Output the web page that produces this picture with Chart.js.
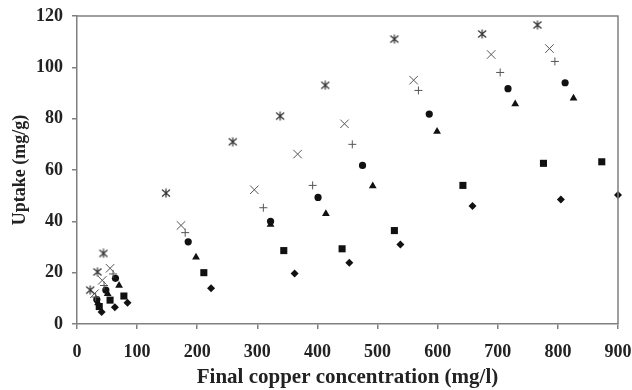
<!DOCTYPE html>
<html lang="en">
<head>
    <meta charset="UTF-8">
    <title>Copper uptake</title>
    <style>
        body { margin: 0; background: #fff; }
        .wrap { width: 632px; height: 390px; }
    </style>
</head>
<body>
    <div class="wrap"><canvas id="chart" width="632" height="390"></canvas></div>
    <script src="https://cdn.jsdelivr.net/npm/chart.js@4.4.1/dist/chart.umd.min.js"></script>
    <script>
        // [final copper concentration (mg/l), uptake (mg/g)] per marker series
        const asteriskPts = [[22, 13.2], [34, 20.3], [44, 27.5], [148, 51], [259, 71], [338, 81], [413, 93], [528, 111], [674, 113], [766, 116.5]];
        const crossPts = [[29, 11.8], [42, 17], [55, 21.7], [173, 38.4], [295, 52.3], [367, 66.2], [445, 78], [560, 95], [689, 105], [786, 107.3]];
        const plusPts = [[31, 10.5], [45, 15], [60, 19.5], [180, 35.6], [310, 45.3], [392, 54], [458, 70], [568, 91], [704, 98], [795, 102.3]];
        const circlePts = [[33, 9.5], [48, 13.2], [64, 17.8], [185, 32], [322, 40], [401, 49.3], [475, 61.8], [586, 81.8], [717, 91.7], [812, 94]];
        const trianglePts = [[35, 8.2], [51, 11.8], [70, 15], [198, 26], [322, 38.8], [414, 43], [492, 53.8], [599, 75], [729, 85.7], [826, 88]];
        const squarePts = [[37, 6.8], [55, 9.3], [78, 10.9], [211, 20], [344, 28.6], [441, 29.3], [528, 36.4], [642, 54], [776, 62.6], [873, 63.2]];
        const diamondPts = [[41, 4.7], [63, 6.5], [84, 8.3], [223, 13.9], [362, 19.7], [453, 23.9], [538, 31], [658, 46], [805, 48.5], [900, 50.3]];

        const xTitle = 'Final copper concentration (mg/l)';
        const yTitle = 'Uptake (mg/g)';

        // excel style asterisk: an x with a vertical bar
        const starImg = document.createElement('canvas');
        starImg.width = 10;
        starImg.height = 10;
        (function () {
            const c = starImg.getContext('2d');
            c.strokeStyle = '#333';
            c.lineWidth = 1.2;
            c.beginPath();
            c.moveTo(1, 1.5); c.lineTo(9, 8.5);
            c.moveTo(9, 1.5); c.lineTo(1, 8.5);
            c.moveTo(5, 0.5); c.lineTo(5, 9.5);
            c.stroke();
        })();

        const toXY = pts => pts.map(p => ({ x: p[0], y: p[1] }));
        const ds = (label, pts, style, radius, color, filled) => ({
            label: label,
            data: toXY(pts),
            pointStyle: style,
            pointRadius: radius,
            pointHoverRadius: radius,
            pointBackgroundColor: filled ? '#111' : 'transparent',
            pointBorderColor: color,
            pointBorderWidth: filled ? 0 : 1,
            showLine: false
        });

        const boxPlugin = {
            id: 'box',
            afterDraw(chart) {
                const a = chart.chartArea;
                const ctx = chart.ctx;
                ctx.save();
                ctx.strokeStyle = '#808080';
                ctx.lineWidth = 1.5;
                ctx.beginPath();
                ctx.moveTo(a.left, a.top);
                ctx.lineTo(a.right, a.top);
                ctx.lineTo(a.right, a.bottom);
                ctx.stroke();
                ctx.restore();
            }
        };

        const font = { family: "'Liberation Serif', 'Times New Roman', serif", weight: 'bold', size: 18 };

        new Chart(document.getElementById('chart'), {
            type: 'scatter',
            data: {
                datasets: [
                    ds('asterisk', asteriskPts, starImg, 5, '#333', false),
                    ds('x', crossPts, 'crossRot', 6, '#555', false),
                    ds('plus', plusPts, 'cross', 4, '#555', false),
                    ds('circle', circlePts, 'circle', 3.6, '#111', true),
                    ds('triangle', trianglePts, 'triangle', 4.5, '#111', true),
                    ds('square', squarePts, 'rect', 5, '#111', true),
                    ds('diamond', diamondPts, 'rectRot', 4, '#111', true)
                ]
            },
            options: {
                responsive: false,
                animation: false,
                layout: { padding: { top: 16, right: 14, left: 0, bottom: 0 } },
                plugins: { legend: { display: false }, tooltip: { enabled: false } },
                elements: { point: { hitRadius: 0 } },
                clip: false,
                scales: {
                    x: {
                        type: 'linear',
                        min: 0, max: 900,
                        ticks: { stepSize: 100, color: '#222', font: font, padding: 13, maxRotation: 0 },
                        grid: { display: true, drawOnChartArea: false, drawTicks: true, tickLength: 5, color: '#808080', lineWidth: 1.5 },
                        border: { display: true, color: '#808080', width: 1.5 },
                        title: { display: true, text: xTitle, color: '#222', font: { ...font, size: 21 }, padding: { top: 4, bottom: 0 } },
                        afterFit(scale) {
                            scale.height = 66;
                            scale.paddingLeft = 0;
                            scale.paddingRight = 0;
                        }
                    },
                    y: {
                        min: 0, max: 120,
                        ticks: { stepSize: 20, color: '#222', font: font, padding: 9 },
                        grid: { display: true, drawOnChartArea: false, drawTicks: true, tickLength: 5, color: '#808080', lineWidth: 1.5 },
                        border: { display: true, color: '#808080', width: 1.5 },
                        title: { display: true, text: yTitle, color: '#222', font: { ...font, size: 18 }, padding: { top: 10, bottom: 4 } },
                        afterFit(scale) {
                            scale.width = 77;
                            scale.paddingTop = 0;
                            scale.paddingBottom = 0;
                        }
                    }
                }
            },
            plugins: [boxPlugin]
        });
    </script>
</body>
</html>
